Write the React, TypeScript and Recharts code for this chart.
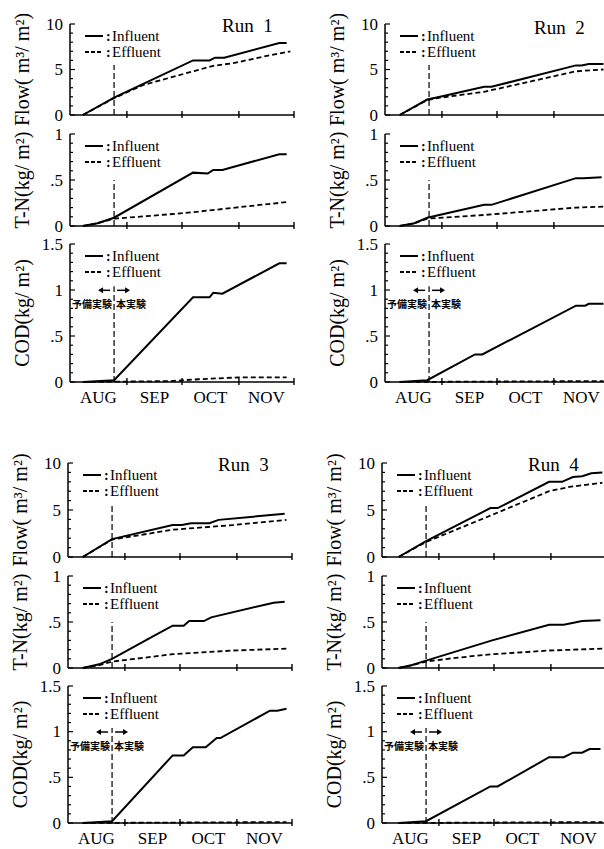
import { LineChart, Line, XAxis, YAxis, Legend, ReferenceLine } from 'recharts';

// days counted from Aug 1
const MONTHS = ['AUG', 'SEP', 'OCT', 'NOV'];
const MONTH_BOUNDS = [31, 61, 92, 122];
const MONTH_MIDS = [15.5, 46, 76.5, 107];
const START_DAY = 24; // 予備実験 / 本実験 boundary

const FLOW_TICKS = [0, 1, 2, 3, 4, 5, 6, 7, 8, 9, 10];
const FLOW_MAJOR = [0, 5, 10];
const TN_TICKS = [0, 0.1, 0.2, 0.3, 0.4, 0.5, 0.6, 0.7, 0.8, 0.9, 1];
const TN_MAJOR = [0, 0.5, 1];
const COD_TICKS = [0, 0.1, 0.2, 0.3, 0.4, 0.5, 0.6, 0.7, 0.8, 0.9, 1, 1.1, 1.2, 1.3, 1.4, 1.5];
const COD_MAJOR = [0, 0.5, 1, 1.5];

// [day, value]
const flow1In = [[7, 0], [24, 1.9], [67, 6.0], [76, 6.0], [79, 6.3], [84, 6.3], [114, 7.9], [118, 7.9]];
const flow1Ef = [[7, 0], [24, 1.85], [40, 3.3], [67, 4.8], [78, 5.4], [89, 5.7], [105, 6.4], [120, 7.0]];
const tn1In = [[7, 0], [15, 0.03], [24, 0.09], [67, 0.58], [75, 0.57], [78, 0.61], [83, 0.61], [114, 0.78], [118, 0.78]];
const tn1Ef = [[7, 0], [15, 0.03], [24, 0.08], [50, 0.12], [67, 0.15], [90, 0.2], [118, 0.26]];
const cod1In = [[7, 0], [24, 0.02], [67, 0.92], [76, 0.92], [78, 0.97], [83, 0.96], [114, 1.29], [118, 1.29]];
const cod1Ef = [[7, 0], [55, 0.01], [70, 0.03], [92, 0.05], [118, 0.05]];

const flow2In = [[8, 0], [23, 1.7], [30, 2.0], [54, 3.1], [58, 3.1], [104, 5.45], [107, 5.45], [111, 5.6], [119, 5.6]];
const flow2Ef = [[8, 0], [23, 1.65], [30, 1.9], [54, 2.55], [104, 4.8], [119, 5.0]];
const tn2In = [[8, 0], [16, 0.03], [23, 0.09], [54, 0.23], [58, 0.23], [104, 0.52], [108, 0.52], [118, 0.53]];
const tn2Ef = [[8, 0], [16, 0.03], [23, 0.08], [54, 0.12], [104, 0.2], [119, 0.21]];
const cod2In = [[8, 0], [23, 0.02], [49, 0.3], [53, 0.3], [104, 0.83], [109, 0.83], [111, 0.85], [119, 0.85]];
const cod2Ef = [[8, 0], [60, 0.005], [119, 0.01]];

const flow3In = [[8, 0], [24, 1.9], [57, 3.4], [62, 3.4], [67, 3.6], [77, 3.6], [82, 3.95], [118, 4.6]];
const flow3Ef = [[8, 0], [24, 1.85], [57, 2.9], [90, 3.4], [119, 3.95]];
const tn3In = [[8, 0], [17, 0.04], [24, 0.1], [45, 0.33], [57, 0.46], [63, 0.46], [66, 0.51], [74, 0.51], [78, 0.55], [112, 0.71], [118, 0.72]];
const tn3Ef = [[8, 0], [17, 0.03], [24, 0.07], [45, 0.12], [57, 0.15], [90, 0.19], [119, 0.21]];
const cod3In = [[8, 0], [24, 0.02], [57, 0.74], [63, 0.74], [68, 0.83], [75, 0.83], [81, 0.93], [83, 0.93], [110, 1.23], [114, 1.23], [119, 1.25]];
const cod3Ef = [[8, 0], [60, 0.005], [119, 0.01]];

const flow4In = [[9, 0], [24, 1.7], [59, 5.2], [63, 5.2], [91, 8.0], [98, 8.0], [104, 8.5], [109, 8.6], [114, 8.9], [120, 9.0]];
const flow4Ef = [[9, 0], [24, 1.6], [59, 4.4], [91, 7.0], [102, 7.45], [120, 7.9]];
const tn4In = [[9, 0], [16, 0.03], [24, 0.08], [60, 0.3], [91, 0.47], [99, 0.47], [109, 0.51], [119, 0.52]];
const tn4Ef = [[9, 0], [16, 0.03], [24, 0.07], [40, 0.11], [60, 0.15], [91, 0.19], [120, 0.21]];
const cod4In = [[9, 0], [24, 0.02], [59, 0.4], [63, 0.4], [91, 0.72], [99, 0.72], [104, 0.77], [109, 0.77], [113, 0.81], [119, 0.81]];
const cod4Ef = [[9, 0], [60, 0.005], [120, 0.01]];

const SERIES_NAMES = ['Influent', 'Effluent'];

const SERIF = '"Liberation Serif", "DejaVu Serif", serif';
const CJK = '"Noto Sans CJK JP", sans-serif';
const PLOT_W = 224;
const YAXIS_W = 60;
const MARGIN = { top: 10, right: 12, bottom: 28, left: 0 };

const KINDS: Record<string, any> = {
    flow: { max: 10, ticks: FLOW_TICKS, major: FLOW_MAJOR, label: 'Flow( m³/ m²)', ref: 5.5 },
    tn: { max: 1, ticks: TN_TICKS, major: TN_MAJOR, label: 'T-N(kg/ m²)', ref: 0.5 },
    cod: { max: 1.5, ticks: COD_TICKS, major: COD_MAJOR, label: 'COD(kg/ m²)', ref: 1.04 },
};

const toPts = (arr: number[][]) => arr.map(([day, v]) => ({ day, v }));

const RUNS = [
    { name: 'Run  1', x0: 70, row: 0, title: { left: 222, top: 16 }, series: { flow: [flow1In, flow1Ef], tn: [tn1In, tn1Ef], cod: [cod1In, cod1Ef] } },
    { name: 'Run  2', x0: 385, row: 0, title: { left: 534, top: 18 }, series: { flow: [flow2In, flow2Ef], tn: [tn2In, tn2Ef], cod: [cod2In, cod2Ef] } },
    { name: 'Run  3', x0: 68, row: 1, title: { left: 218, top: 455 }, series: { flow: [flow3In, flow3Ef], tn: [tn3In, tn3Ef], cod: [cod3In, cod3Ef] } },
    { name: 'Run  4', x0: 382, row: 1, title: { left: 528, top: 455 }, series: { flow: [flow4In, flow4Ef], tn: [tn4In, tn4Ef], cod: [cod4In, cod4Ef] } },
];

const ROWS = [
    { flow: { top: 24, h: 91 }, tn: { top: 134, h: 92 }, cod: { top: 244, h: 138 } },
    { flow: { top: 463, h: 94 }, tn: { top: 576, h: 92 }, cod: { top: 686, h: 137 } },
];

const fmt = (v: number) => (v > 0 && v < 1 ? '.' + String(v).split('.')[1] : String(v));

function XTick({ x, y, payload, showMonths }: any) {
    const i = MONTH_MIDS.indexOf(payload.value);
    if (i >= 0) {
        if (!showMonths) return <g />;
        return (
            <text x={x} y={y + 15} textAnchor="middle" dominantBaseline="central" fontSize={17} fontFamily={SERIF} fill="#000">
                {MONTHS[i]}
            </text>
        );
    }
    return <line x1={x} x2={x} y1={y - 4} y2={y + 3} stroke="#000" strokeWidth={1.4} />;
}

function YTick({ x, y, payload, major }: any) {
    const v = payload.value;
    const isMajor = major.some((m: number) => Math.abs(m - v) < 1e-6);
    return (
        <g>
            <line x1={x} x2={x + (isMajor ? 5 : 3)} y1={y} y2={y} stroke="#000" strokeWidth={1.2} />
            {isMajor && (
                <text x={x - 7} y={y} textAnchor="end" dominantBaseline="central" fontSize={17} fontFamily={SERIF} fill="#000">
                    {fmt(v)}
                </text>
            )}
        </g>
    );
}

function YLabel({ viewBox, text }: any) {
    const cx = viewBox.x + viewBox.width - 48;
    const cy = viewBox.y + viewBox.height / 2;
    return (
        <text x={cx} y={cy} transform={`rotate(-90, ${cx}, ${cy})`} textAnchor="middle" dominantBaseline="central"
            fontSize={20} fontFamily={SERIF} fill="#000">
            {text}
        </text>
    );
}

function LegendBox({ payload }: any) {
    const items = [...(payload || [])].sort(
        (a: any, b: any) => SERIES_NAMES.indexOf(a.value) - SERIES_NAMES.indexOf(b.value)
    );
    return (
        <svg width={110} height={34} style={{ display: 'block' }}>
            {items.map((e: any, i: number) => {
                const cy = 8 + i * 16;
                return (
                    <g key={e.value}>
                        <line x1={0} x2={18} y1={cy} y2={cy} stroke="#000" strokeWidth={2}
                            strokeDasharray={e.value === 'Effluent' ? '4 2' : undefined} />
                        <text x={21} y={cy} dominantBaseline="central" fontSize={14} fontWeight={700} fontFamily={SERIF} fill="#000">:</text>
                        <text x={27} y={cy} dominantBaseline="central" fontSize={15} fontFamily={SERIF} fill="#000">{e.value}</text>
                    </g>
                );
            })}
        </svg>
    );
}

function PhaseNote({ viewBox }: any) {
    const x = viewBox.x;
    const y = viewBox.y;
    return (
        <g>
            <line x1={x - 4} x2={x - 13} y1={y + 4} y2={y + 4} stroke="#000" strokeWidth={1.5} />
            <path d={`M${x - 16},${y + 4} L${x - 11},${y + 1} L${x - 11},${y + 7} Z`} fill="#000" />
            <line x1={x + 3} x2={x + 13} y1={y + 4} y2={y + 4} stroke="#000" strokeWidth={1.5} />
            <path d={`M${x + 16},${y + 4} L${x + 11},${y + 1} L${x + 11},${y + 7} Z`} fill="#000" />
            <text x={x - 2} y={y + 17} textAnchor="end" dominantBaseline="central" fontSize={10} fontWeight={700} fontFamily={CJK} fill="#000">
                予備実験
            </text>
            <text x={x + 2} y={y + 17} textAnchor="start" dominantBaseline="central" fontSize={10} fontWeight={700} fontFamily={CJK} fill="#000">
                本実験
            </text>
        </g>
    );
}

function Panel({ x0, top, h, kind, inf, eff }: any) {
    const k = KINDS[kind];
    const width = YAXIS_W + PLOT_W + MARGIN.right;
    const height = MARGIN.top + h + 1 + MARGIN.bottom;
    const isCod = kind === 'cod';
    return (
        <div style={{ position: 'absolute', left: x0 - YAXIS_W, top: top - MARGIN.top }}>
            <LineChart width={width} height={height} margin={MARGIN}>
                <XAxis
                    type="number"
                    dataKey="day"
                    domain={[0, 122]}
                    ticks={isCod ? [...MONTH_BOUNDS, ...MONTH_MIDS] : MONTH_BOUNDS}
                    interval={0}
                    height={1}
                    tickSize={0}
                    tickMargin={0}
                    tickLine={false}
                    axisLine={{ stroke: '#000', strokeWidth: 1.5 }}
                    tick={(p: any) => <XTick {...p} showMonths={isCod} />}
                />
                <YAxis
                    type="number"
                    domain={[0, k.max]}
                    ticks={k.ticks}
                    interval={0}
                    width={YAXIS_W}
                    tickSize={0}
                    tickMargin={0}
                    tickLine={false}
                    axisLine={{ stroke: '#000', strokeWidth: 1.5 }}
                    tick={(p: any) => <YTick {...p} major={k.major} />}
                    label={(p: any) => <YLabel {...p} text={k.label} />}
                />
                <Legend
                    layout="vertical"
                    align="center"
                    verticalAlign="middle"
                    wrapperStyle={{ top: MARGIN.top + 4, left: YAXIS_W + 15, width: 110 }}
                    content={LegendBox}
                />
                <ReferenceLine
                    segment={[{ x: START_DAY, y: 0 }, { x: START_DAY, y: k.ref }]}
                    stroke="#000"
                    strokeWidth={1.2}
                    strokeDasharray="6 3"
                    label={isCod ? (p: any) => <PhaseNote {...p} /> : undefined}
                />
                <Line name={SERIES_NAMES[0]} data={toPts(inf)} dataKey="v" type="linear" stroke="#000" strokeWidth={2}
                    dot={false} isAnimationActive={false} />
                <Line name={SERIES_NAMES[1]} data={toPts(eff)} dataKey="v" type="linear" stroke="#000" strokeWidth={1.8}
                    strokeDasharray="5 3" dot={false} isAnimationActive={false} />
            </LineChart>
        </div>
    );
}

export default function App() {
    return (
        <div style={{ position: 'absolute', left: 0, top: 0, width: 604, height: 849, overflow: 'hidden', background: '#fff' }}>
            {RUNS.map((run) => (
                <div key={run.name}>
                    {(['flow', 'tn', 'cod'] as const).map((kind) => (
                        <Panel
                            key={kind}
                            x0={run.x0}
                            top={ROWS[run.row][kind].top}
                            h={ROWS[run.row][kind].h}
                            kind={kind}
                            inf={run.series[kind][0]}
                            eff={run.series[kind][1]}
                        />
                    ))}
                    <div style={{ position: 'absolute', left: run.title.left, top: run.title.top, fontFamily: SERIF, fontSize: 19, lineHeight: '20px', whiteSpace: 'pre' }}>
                        {run.name}
                    </div>
                </div>
            ))}
        </div>
    );
}
